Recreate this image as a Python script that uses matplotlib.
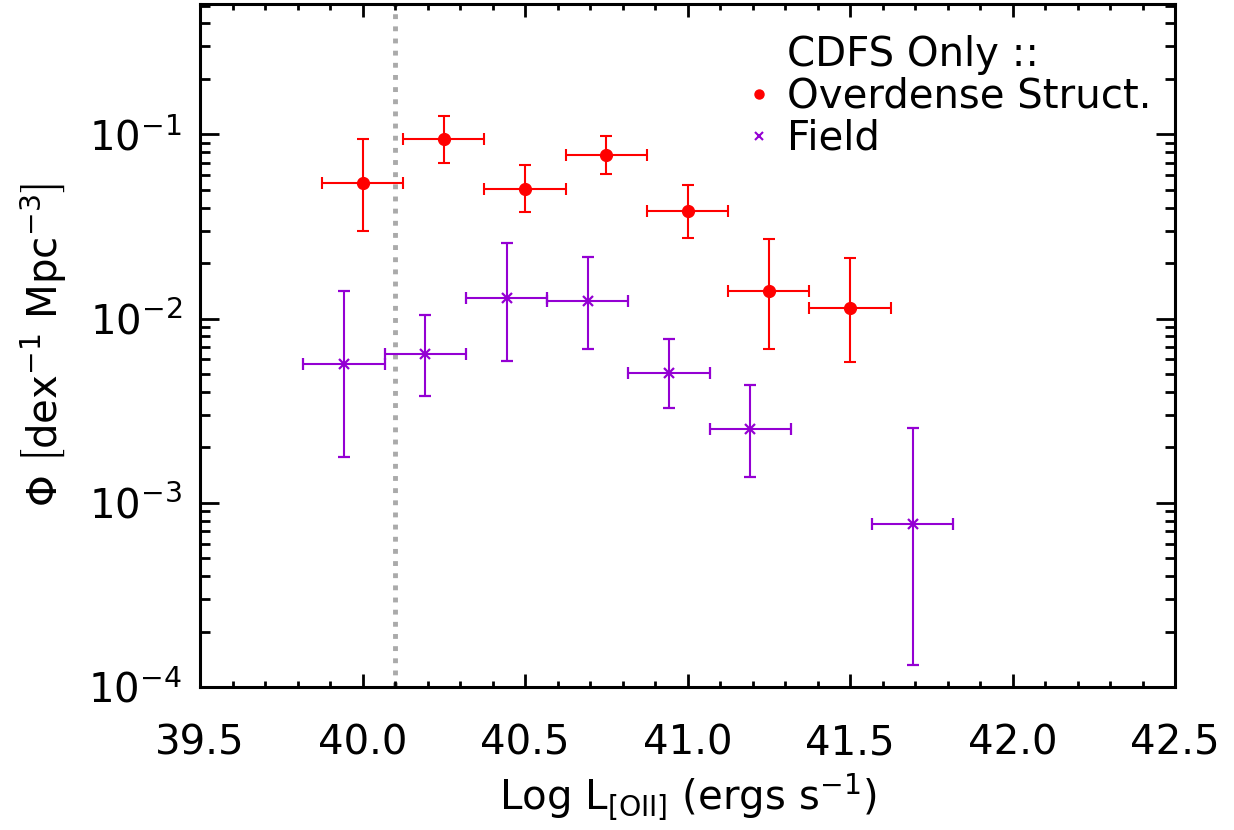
import matplotlib
matplotlib.use("Agg")
import matplotlib.pyplot as plt
from matplotlib.lines import Line2D
from matplotlib.ticker import MultipleLocator, LogLocator, NullFormatter

# ------------------------------------------
# DATA
# ------------------------------------------
# overdense structures (CDFS)
od_logl = [40.00, 40.25, 40.50, 40.75, 41.00, 41.25, 41.50]
od_phi = [0.0542, 0.0940, 0.0506, 0.0769, 0.0383, 0.0141, 0.0114]
od_phi_hi = [0.0940, 0.1260, 0.0684, 0.0980, 0.0530, 0.0270, 0.0213]
od_phi_lo = [0.0299, 0.0698, 0.0377, 0.0607, 0.0273, 0.0068, 0.0058]

# field galaxies
fd_logl = [39.943, 40.193, 40.443, 40.693, 40.943, 41.193, 41.693]
fd_phi = [0.00565, 0.00646, 0.0130, 0.01247, 0.00506, 0.00252, 0.000769]
fd_phi_hi = [0.01406, 0.01047, 0.0258, 0.0215, 0.00774, 0.00438, 0.00256]
fd_phi_lo = [0.00177, 0.00379, 0.00591, 0.0068, 0.00327, 0.00138, 0.000132]

BIN_HALF = 0.125
LIMIT_LOGL = 40.1

RED = "#ff0000"
PURPLE = "#9400d3"
FS = 29

plt.rcParams["font.family"] = ["DejaVu Sans"]
plt.rcParams["mathtext.fontset"] = "dejavusans"

fig = plt.figure(figsize=(12.34, 8.30), dpi=100)
ax = fig.add_axes([0.1621, 0.1723, 0.7901, 0.8229])


def asym(vals, lo, hi):
    return [[v - l for v, l in zip(vals, lo)], [h - v for v, h in zip(vals, hi)]]


ax.errorbar(
    od_logl, od_phi,
    xerr=BIN_HALF, yerr=asym(od_phi, od_phi_lo, od_phi_hi),
    fmt="o", color=RED, ms=8.5, elinewidth=1.5, capsize=4.5, capthick=1.5,
)
ax.errorbar(
    fd_logl, fd_phi,
    xerr=BIN_HALF, yerr=asym(fd_phi, fd_phi_lo, fd_phi_hi),
    fmt="x", color=PURPLE, ms=7, mew=1.6, elinewidth=1.5, capsize=4.5, capthick=1.5,
)

# completeness limit
ax.axvline(LIMIT_LOGL, color="#aaaaaa", lw=3.5, ls=(0, (1.0, 1.5)), zorder=0)

ax.set_yscale("log")
ax.set_xlim(39.5, 42.5)
ax.set_ylim(1e-4, 0.51)

ax.xaxis.set_major_locator(MultipleLocator(0.5))
ax.xaxis.set_minor_locator(MultipleLocator(0.1))
ax.xaxis.set_major_formatter(plt.FuncFormatter(lambda v, p: f"{v:.1f}"))
ax.yaxis.set_major_locator(LogLocator(base=10, numticks=10))
ax.yaxis.set_minor_locator(LogLocator(base=10, subs=range(2, 10), numticks=20))
ax.yaxis.set_minor_formatter(NullFormatter())

ax.tick_params(axis="both", which="both", direction="in", top=True, right=True,
               width=2, labelsize=FS)
ax.tick_params(axis="x", which="major", length=9.5, pad=26)
ax.tick_params(axis="x", which="minor", length=4.5)
ax.tick_params(axis="y", which="major", length=14, pad=13)
ax.tick_params(axis="y", which="minor", length=7)
for s in ax.spines.values():
    s.set_linewidth(2.2)

ax.set_xlabel(r"Log L$_{\rm [OII]}$ (ergs s$^{-1}$)", fontsize=FS, labelpad=6)
ax.set_ylabel(r"$\Phi$ $\left[\rm dex^{-1}\ Mpc^{-3}\right]$", fontsize=FS, labelpad=14)

handles = [
    Line2D([], [], ls="none"),
    Line2D([], [], ls="none", marker="o", color=RED, ms=6.5),
    Line2D([], [], ls="none", marker="x", color=PURPLE, ms=6, mew=1.5),
]
ax.legend(handles, ["CDFS Only ::", "Overdense Struct.", "Field"],
          loc="upper left", bbox_to_anchor=(0.561, 0.955), frameon=False,
          fontsize=FS, handlelength=0.6, handletextpad=0.4, labelspacing=0.05,
          borderpad=0, borderaxespad=0)

fig.savefig("out.png", dpi=100)
